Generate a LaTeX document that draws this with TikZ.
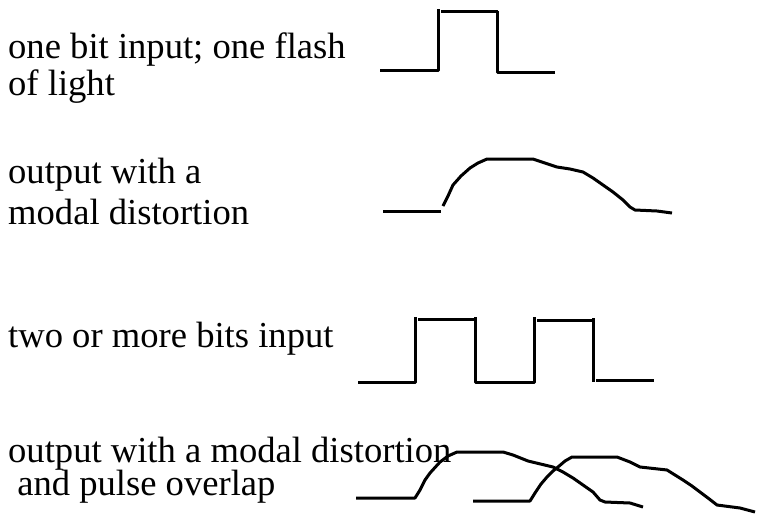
\documentclass[tikz,border=0pt]{standalone}
\usepackage{fontspec}
\setmainfont{Liberation Serif}
\begin{document}
\begin{tikzpicture}[x=1pt,y=-1pt,
  lbl/.style={anchor=base west,inner sep=0pt,font=\fontsize{36.6}{37}\selectfont},
  wave/.style={line width=3pt,line join=round,line cap=butt}]
\useasboundingbox[fill=white] (0,0) rectangle (757,520);
% labels
\node[lbl] (t1a) at (8,58) {one bit input; one flash};
\node[lbl] (t1b) at (8,95) {of light};
\node[lbl] (t2a) at (8,183) {output with a};
\node[lbl] (t2b) at (8,224) {modal distortion};
\node[lbl] (t3) at (8,347) {two or more bits input};
\node[lbl] (t4a) at (8,462) {output with a modal distortion};
\node[lbl] (t4b) at (8,495) {\ and pulse overlap};
% one bit input
\draw[wave] (380,70) -- (438,70) -- (438,9);
\draw[wave] (441,11) -- (498,11);
\draw[wave] (497,11) -- (497,72) -- (555,72);
% output with modal distortion
\draw[wave] (383,211) -- (441,211);
\draw[wave] (443,206) -- (448,196) -- (453,185) -- (461,176) -- (470,168) -- (478,163) -- (487,159)
  -- (533,159) -- (545,163) -- (557,167) -- (570,169) -- (583,172) -- (593,178) -- (603,185)
  -- (613,192) -- (623,200) -- (630,207) -- (635,210) -- (657,211) -- (672,213);
% two or more bits input
\draw[wave] (358,382) -- (415,382) -- (415,317);
\draw[wave] (418,319) -- (475,319);
\draw[wave] (475,317) -- (475,382) -- (534,382) -- (534,317);
\draw[wave] (537,320) -- (593,320);
\draw[wave] (593,318) -- (593,382);
\draw[wave] (596,380) -- (654,380);
% output with modal distortion and pulse overlap
\draw[wave] (356,498) -- (415,498) -- (420,490) -- (425,480) -- (430,473) -- (440,462) -- (448,456)
  -- (457,452) -- (503,452) -- (513,455) -- (528,461) -- (553,467) -- (563,472) -- (573,478)
  -- (583,485) -- (593,492) -- (600,500) -- (605,502) -- (630,503) -- (643,507);
\draw[wave] (473,501) -- (530,501) -- (535,493) -- (541,484) -- (547,477) -- (553,471) -- (558,467)
  -- (565,461) -- (572,457) -- (617,457) -- (630,462) -- (640,467) -- (667,470) -- (675,475)
  -- (683,480) -- (692,486) -- (700,492) -- (708,498) -- (717,505) -- (740,508) -- (755,512);
\end{tikzpicture}
\end{document}
